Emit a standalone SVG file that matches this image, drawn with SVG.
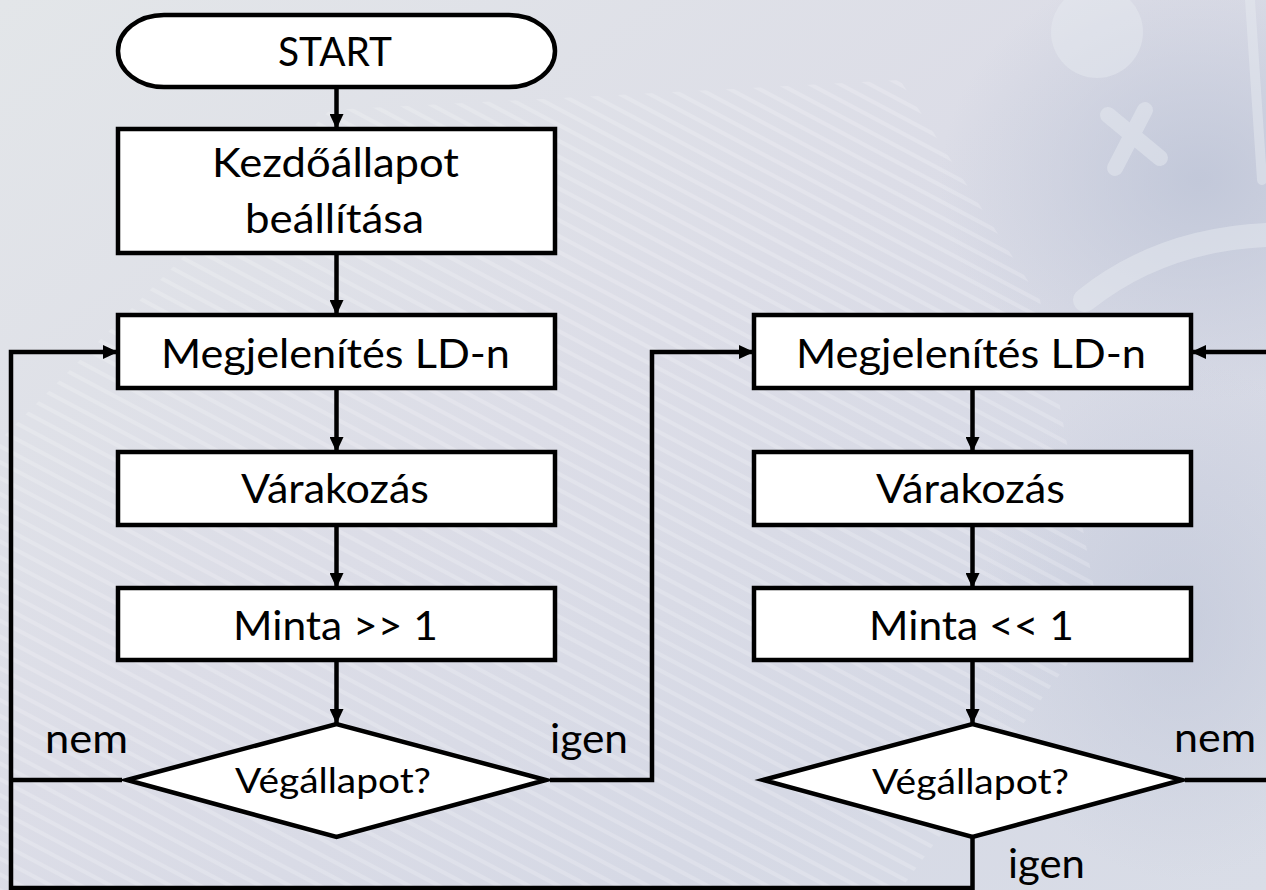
<svg xmlns="http://www.w3.org/2000/svg" width="1266" height="890" viewBox="0 0 1266 890">
  <defs>
    <linearGradient id="bg" x1="0" y1="0" x2="1" y2="1">
      <stop offset="0" stop-color="#e3e6e9"/>
      <stop offset="0.45" stop-color="#dcdde7"/>
      <stop offset="0.75" stop-color="#d6d9e5"/>
      <stop offset="1" stop-color="#d9dde7"/>
    </linearGradient>
    <radialGradient id="dark" cx="0.5" cy="0.5" r="0.5">
      <stop offset="0" stop-color="#bcc3d6" stop-opacity="0.8"/>
      <stop offset="1" stop-color="#bcc3d6" stop-opacity="0"/>
    </radialGradient>
    <pattern id="streaks" width="14" height="14" patternUnits="userSpaceOnUse" patternTransform="rotate(28)">
      <rect x="0" y="0" width="14" height="4" fill="#ffffff" opacity="0.35"/>
    </pattern>
    <marker id="arr" markerUnits="userSpaceOnUse" markerWidth="16" markerHeight="14" refX="15" refY="7" orient="auto">
      <path d="M0,0 L15,7 L0,14 z" fill="#000"/>
    </marker>
    <style>
      .box{fill:#fff;stroke:#000;stroke-width:4.5;stroke-linejoin:miter}
      .con{fill:none;stroke:#000;stroke-width:4.5;stroke-linejoin:miter}
      .arr{marker-end:url(#arr)}
      .t{font-family:Lato,"Open Sans","DejaVu Sans",sans-serif;font-size:41px;fill:#000;text-anchor:middle}
      .d{font-size:35px}
      .lab{font-family:Lato,"Open Sans","DejaVu Sans",sans-serif;font-size:41px;fill:#000}
      .deco{fill:none;stroke:#e6e9ef;stroke-linecap:round;opacity:0.5}
    </style>
  </defs>

  <g id="background">
    <rect x="0" y="0" width="1266" height="890" fill="url(#bg)"/>
    <ellipse cx="1200" cy="180" rx="260" ry="220" fill="url(#dark)"/>
    <ellipse cx="1180" cy="620" rx="200" ry="260" fill="url(#dark)" opacity="0.7"/>
    <path d="M0,440 L330,110 L900,80 L1040,300 L1100,620 L900,890 L0,890 z" fill="url(#streaks)" opacity="0.55"/>
    <circle cx="1097" cy="32" r="46" fill="#e6e9ef" opacity="0.5"/>
    <path class="deco" d="M1108,115 L1160,158 M1145,110 L1115,168" stroke-width="16"/>
    <path class="deco" d="M1085,300 Q1160,240 1266,235" stroke-width="24"/>
    <path class="deco" d="M1250,0 L1262,180" stroke-width="10"/>
  </g>

  <g id="connectors">
    <path class="con arr" d="M336.5,87 V129"/>
    <path class="con arr" d="M336.5,253 V315"/>
    <path class="con arr" d="M336.5,388 V452"/>
    <path class="con arr" d="M336.5,525 V588"/>
    <path class="con arr" d="M336.5,660 V724"/>
    <path class="con" d="M122,780 H11"/>
    <path class="con arr" d="M972.5,837 V888 H11 V352 H118"/>
    <path class="con arr" d="M550,780 H652 V352 H754"/>
    <path class="con arr" d="M972.5,388 V452"/>
    <path class="con arr" d="M972.5,525 V588"/>
    <path class="con arr" d="M972.5,660 V724"/>
    <path class="con arr" d="M1185,780 H1272 V352 H1191"/>
  </g>

  <g id="start">
    <rect class="box" x="118" y="15" width="437" height="72" rx="46" ry="36"/>
    <text class="t" x="335" y="66" textLength="114" lengthAdjust="spacingAndGlyphs">START</text>
  </g>
  <g id="init">
    <rect class="box" x="118" y="129" width="437" height="124"/>
    <text class="t" x="335.5" y="177" textLength="247" lengthAdjust="spacingAndGlyphs">Kezdőállapot</text>
    <text class="t" x="334.5" y="233" textLength="179" lengthAdjust="spacingAndGlyphs">beállítása</text>
  </g>
  <g id="display-left">
    <rect class="box" x="118" y="315" width="437" height="73"/>
    <text class="t" x="335.5" y="368" textLength="349" lengthAdjust="spacingAndGlyphs">Megjelenítés LD-n</text>
  </g>
  <g id="wait-left">
    <rect class="box" x="118" y="452" width="437" height="73"/>
    <text class="t" x="335" y="503" textLength="188" lengthAdjust="spacingAndGlyphs">Várakozás</text>
  </g>
  <g id="shift-right">
    <rect class="box" x="118" y="588" width="437" height="72"/>
    <text class="t" x="335.5" y="640" textLength="205" lengthAdjust="spacingAndGlyphs">Minta &gt;&gt; 1</text>
  </g>
  <g id="decision-left">
    <polygon class="box" points="127,780 336.5,724 546,780 336.5,837"/>
    <text class="t d" x="333" y="793" textLength="196" lengthAdjust="spacingAndGlyphs">Végállapot?</text>
  </g>

  <g id="display-right">
    <rect class="box" x="754" y="315" width="437" height="73"/>
    <text class="t" x="971" y="368" textLength="350" lengthAdjust="spacingAndGlyphs">Megjelenítés LD-n</text>
  </g>
  <g id="wait-right">
    <rect class="box" x="754" y="452" width="437" height="73"/>
    <text class="t" x="970.5" y="503" textLength="189" lengthAdjust="spacingAndGlyphs">Várakozás</text>
  </g>
  <g id="shift-left">
    <rect class="box" x="754" y="588" width="437" height="72"/>
    <text class="t" x="971.5" y="640" textLength="205" lengthAdjust="spacingAndGlyphs">Minta &lt;&lt; 1</text>
  </g>
  <g id="decision-right">
    <polygon class="box" points="763,780 972.5,724 1182,780 972.5,837"/>
    <text class="t d" x="970.5" y="794" textLength="197" lengthAdjust="spacingAndGlyphs">Végállapot?</text>
  </g>

  <g id="labels">
    <text class="lab" x="45" y="753" textLength="83" lengthAdjust="spacingAndGlyphs">nem</text>
    <text class="lab" x="550" y="753" textLength="78" lengthAdjust="spacingAndGlyphs">igen</text>
    <text class="lab" x="1174" y="752" textLength="82" lengthAdjust="spacingAndGlyphs">nem</text>
    <text class="lab" x="1008" y="878" textLength="77" lengthAdjust="spacingAndGlyphs">igen</text>
  </g>
</svg>
